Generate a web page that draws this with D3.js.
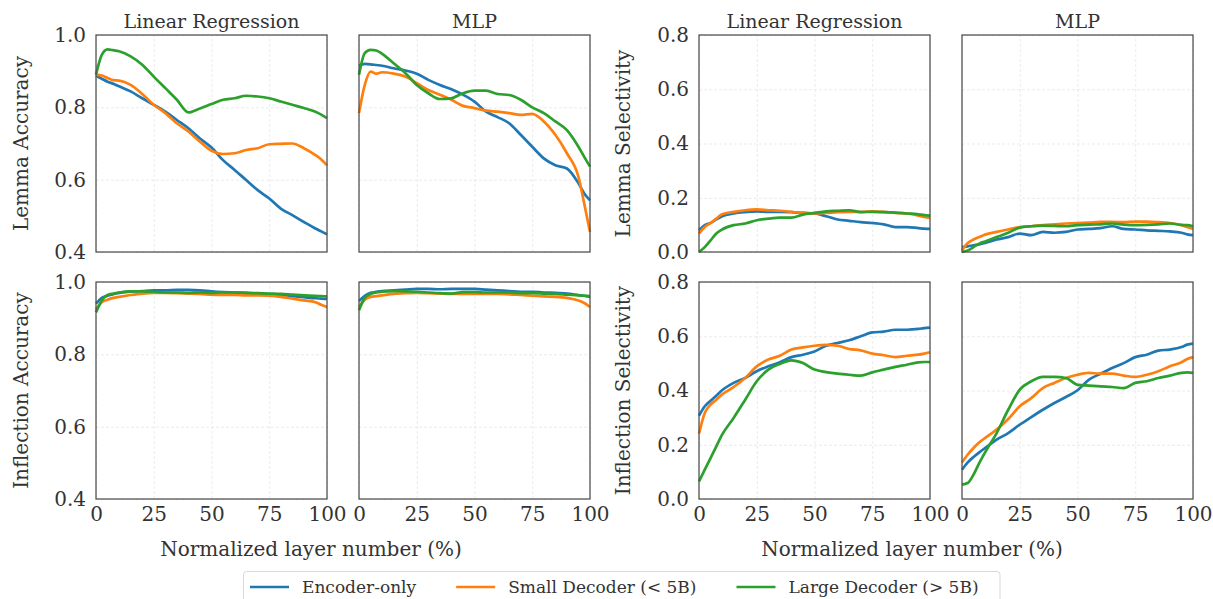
<!DOCTYPE html>
<html>
<head>
<meta charset="utf-8">
<script src="https://cdn.jsdelivr.net/npm/d3@7"></script>
<style>
  html, body { margin: 0; padding: 0; background: #fff; }
  svg text { font-family: "DejaVu Serif", "Liberation Serif", serif; }
</style>
</head>
<body>
<div id="chart"></div>
<script>
// shared x positions (normalized layer %)
const layers = [0, 2.5, 5, 7.5, 10, 15, 20, 25, 30, 35, 40, 45, 50, 55, 60, 65, 70, 75, 80, 85, 90, 95, 97.5, 100];

const seriesNames = ["Encoder-only", "Small Decoder (< 5B)", "Large Decoder (> 5B)"];
const colors = ["#1f77b4", "#ff7f0e", "#2ca02c"];
const xTicks = [0, 25, 50, 75, 100];
const accTicks = [0.4, 0.6, 0.8, 1.0];
const selTicks = [0.0, 0.2, 0.4, 0.6, 0.8];

// Lemma accuracy
const lemmaAccLR_enc = [0.887, 0.879, 0.871, 0.865, 0.858, 0.844, 0.825, 0.807, 0.788, 0.765, 0.742, 0.714, 0.689, 0.654, 0.627, 0.599, 0.571, 0.548, 0.520, 0.502, 0.483, 0.465, 0.457, 0.449];
const lemmaAccLR_small = [0.890, 0.888, 0.881, 0.875, 0.874, 0.862, 0.837, 0.807, 0.784, 0.756, 0.733, 0.705, 0.680, 0.671, 0.673, 0.682, 0.687, 0.698, 0.699, 0.700, 0.687, 0.668, 0.656, 0.640];
const lemmaAccLR_large = [0.890, 0.945, 0.960, 0.958, 0.955, 0.941, 0.918, 0.885, 0.853, 0.821, 0.786, 0.797, 0.809, 0.821, 0.825, 0.832, 0.830, 0.825, 0.816, 0.807, 0.798, 0.788, 0.780, 0.770];
const lemmaAccMLP_enc = [0.915, 0.920, 0.919, 0.917, 0.915, 0.908, 0.902, 0.893, 0.876, 0.862, 0.850, 0.835, 0.816, 0.788, 0.773, 0.756, 0.724, 0.691, 0.659, 0.640, 0.631, 0.590, 0.562, 0.543];
const lemmaAccMLP_small = [0.784, 0.862, 0.899, 0.893, 0.897, 0.893, 0.885, 0.867, 0.848, 0.835, 0.821, 0.804, 0.798, 0.791, 0.788, 0.784, 0.779, 0.782, 0.761, 0.724, 0.673, 0.608, 0.534, 0.455];
const lemmaAccMLP_large = [0.890, 0.950, 0.959, 0.957, 0.948, 0.922, 0.895, 0.862, 0.839, 0.823, 0.825, 0.839, 0.846, 0.846, 0.837, 0.834, 0.821, 0.800, 0.784, 0.761, 0.737, 0.691, 0.663, 0.636];

// Inflection accuracy
const inflAccLR_enc = [0.940, 0.956, 0.962, 0.966, 0.970, 0.973, 0.975, 0.977, 0.977, 0.978, 0.978, 0.977, 0.974, 0.972, 0.971, 0.970, 0.968, 0.966, 0.964, 0.961, 0.958, 0.955, 0.954, 0.953];
const inflAccLR_small = [0.924, 0.944, 0.951, 0.956, 0.959, 0.964, 0.968, 0.970, 0.970, 0.969, 0.968, 0.967, 0.965, 0.964, 0.964, 0.963, 0.963, 0.962, 0.959, 0.954, 0.949, 0.944, 0.937, 0.931];
const inflAccLR_large = [0.916, 0.949, 0.964, 0.968, 0.971, 0.974, 0.974, 0.973, 0.971, 0.971, 0.970, 0.971, 0.970, 0.971, 0.971, 0.970, 0.969, 0.968, 0.967, 0.965, 0.963, 0.962, 0.961, 0.960];
const inflAccMLP_enc = [0.947, 0.962, 0.970, 0.973, 0.975, 0.977, 0.979, 0.981, 0.981, 0.980, 0.981, 0.981, 0.981, 0.979, 0.977, 0.975, 0.973, 0.973, 0.971, 0.970, 0.968, 0.964, 0.962, 0.959];
const inflAccMLP_small = [0.931, 0.951, 0.959, 0.961, 0.963, 0.967, 0.969, 0.970, 0.969, 0.968, 0.967, 0.967, 0.967, 0.967, 0.967, 0.966, 0.964, 0.962, 0.960, 0.959, 0.956, 0.949, 0.942, 0.931];
const inflAccMLP_large = [0.922, 0.956, 0.967, 0.971, 0.973, 0.975, 0.974, 0.973, 0.971, 0.969, 0.968, 0.972, 0.972, 0.971, 0.971, 0.971, 0.969, 0.969, 0.968, 0.967, 0.965, 0.963, 0.962, 0.961];

// Lemma selectivity
const lemmaSelLR_enc = [0.080, 0.099, 0.107, 0.120, 0.132, 0.142, 0.147, 0.150, 0.148, 0.148, 0.147, 0.144, 0.142, 0.132, 0.120, 0.115, 0.110, 0.107, 0.102, 0.092, 0.092, 0.088, 0.086, 0.085];
const lemmaSelLR_small = [0.068, 0.092, 0.107, 0.123, 0.139, 0.148, 0.154, 0.157, 0.154, 0.152, 0.148, 0.144, 0.142, 0.144, 0.147, 0.148, 0.148, 0.150, 0.148, 0.144, 0.142, 0.134, 0.129, 0.126];
const lemmaSelLR_large = [0.000, 0.018, 0.043, 0.068, 0.083, 0.099, 0.105, 0.117, 0.123, 0.127, 0.127, 0.138, 0.144, 0.150, 0.152, 0.154, 0.147, 0.148, 0.147, 0.145, 0.142, 0.139, 0.136, 0.134];
const lemmaSelMLP_enc = [0.018, 0.021, 0.025, 0.028, 0.033, 0.046, 0.055, 0.068, 0.062, 0.074, 0.071, 0.074, 0.083, 0.085, 0.088, 0.095, 0.085, 0.083, 0.080, 0.078, 0.076, 0.071, 0.065, 0.062];
const lemmaSelMLP_small = [0.006, 0.033, 0.046, 0.055, 0.064, 0.074, 0.083, 0.092, 0.095, 0.099, 0.102, 0.105, 0.107, 0.108, 0.111, 0.111, 0.110, 0.112, 0.112, 0.110, 0.107, 0.099, 0.092, 0.085];
const lemmaSelMLP_large = [0.000, 0.006, 0.018, 0.031, 0.039, 0.055, 0.071, 0.090, 0.095, 0.097, 0.096, 0.095, 0.099, 0.101, 0.102, 0.105, 0.101, 0.099, 0.100, 0.102, 0.105, 0.100, 0.099, 0.095];

// Inflection selectivity
const inflSelLR_enc = [0.307, 0.342, 0.362, 0.381, 0.401, 0.428, 0.446, 0.471, 0.489, 0.504, 0.523, 0.532, 0.544, 0.565, 0.575, 0.585, 0.600, 0.614, 0.617, 0.624, 0.624, 0.627, 0.630, 0.632];
const inflSelLR_small = [0.241, 0.317, 0.348, 0.366, 0.385, 0.413, 0.446, 0.489, 0.514, 0.528, 0.551, 0.559, 0.565, 0.568, 0.565, 0.553, 0.548, 0.536, 0.530, 0.523, 0.528, 0.532, 0.536, 0.541];
const inflSelLR_large = [0.065, 0.108, 0.151, 0.194, 0.237, 0.299, 0.366, 0.434, 0.477, 0.498, 0.511, 0.501, 0.477, 0.468, 0.462, 0.458, 0.455, 0.467, 0.477, 0.487, 0.495, 0.504, 0.505, 0.505];
const inflSelMLP_enc = [0.108, 0.135, 0.155, 0.172, 0.188, 0.219, 0.243, 0.274, 0.302, 0.329, 0.354, 0.376, 0.401, 0.440, 0.462, 0.483, 0.501, 0.523, 0.532, 0.547, 0.551, 0.560, 0.569, 0.573];
const inflSelMLP_small = [0.135, 0.164, 0.188, 0.209, 0.225, 0.256, 0.295, 0.342, 0.372, 0.409, 0.428, 0.446, 0.458, 0.465, 0.462, 0.462, 0.455, 0.450, 0.458, 0.471, 0.489, 0.504, 0.516, 0.523];
const inflSelMLP_large = [0.053, 0.059, 0.090, 0.133, 0.172, 0.243, 0.329, 0.403, 0.434, 0.450, 0.450, 0.446, 0.421, 0.418, 0.415, 0.413, 0.409, 0.428, 0.434, 0.446, 0.455, 0.465, 0.467, 0.465];

const W = 1213, H = 599;
const FONT = '"DejaVu Serif", "Liberation Serif", serif';
const colX = [96, 359, 699, 962];
const panelW = 231;
const rowY = [35, 282];
const panelH = 217;

const panels = [
  {col: 0, row: 0, domain: [0.4, 1.0], ticks: accTicks, series: [lemmaAccLR_enc, lemmaAccLR_small, lemmaAccLR_large]},
  {col: 1, row: 0, domain: [0.4, 1.0], ticks: accTicks, series: [lemmaAccMLP_enc, lemmaAccMLP_small, lemmaAccMLP_large]},
  {col: 0, row: 1, domain: [0.4, 1.0], ticks: accTicks, series: [inflAccLR_enc, inflAccLR_small, inflAccLR_large]},
  {col: 1, row: 1, domain: [0.4, 1.0], ticks: accTicks, series: [inflAccMLP_enc, inflAccMLP_small, inflAccMLP_large]},
  {col: 2, row: 0, domain: [0, 0.8], ticks: selTicks, series: [lemmaSelLR_enc, lemmaSelLR_small, lemmaSelLR_large]},
  {col: 3, row: 0, domain: [0, 0.8], ticks: selTicks, series: [lemmaSelMLP_enc, lemmaSelMLP_small, lemmaSelMLP_large]},
  {col: 2, row: 1, domain: [0, 0.8], ticks: selTicks, series: [inflSelLR_enc, inflSelLR_small, inflSelLR_large]},
  {col: 3, row: 1, domain: [0, 0.8], ticks: selTicks, series: [inflSelMLP_enc, inflSelMLP_small, inflSelMLP_large]}
];

const svg = d3.select("#chart").append("svg")
  .attr("width", W)
  .attr("height", H)
  .attr("font-family", FONT);

const xScale = d3.scaleLinear().domain([0, 100]).range([0, panelW]);

panels.forEach(function(p) {
  const g = svg.append("g")
    .attr("transform", "translate(" + colX[p.col] + "," + rowY[p.row] + ")");
  const yScale = d3.scaleLinear().domain(p.domain).range([panelH, 0]);

  // grid
  g.append("g").attr("class", "grid")
    .call(d3.axisLeft(yScale).tickValues(p.ticks).tickSize(-panelW).tickFormat(""))
    .call(s => s.select(".domain").remove());
  g.append("g").attr("class", "grid")
    .attr("transform", "translate(0," + panelH + ")")
    .call(d3.axisBottom(xScale).tickValues(xTicks).tickSize(-panelH).tickFormat(""))
    .call(s => s.select(".domain").remove());
  g.selectAll(".grid line")
    .attr("stroke", "#e6e6e6")
    .attr("stroke-width", 0.8)
    .attr("stroke-dasharray", "3,2");

  // y tick labels on outer panels only
  if (p.col === 0 || p.col === 2) {
    const ya = g.append("g")
      .call(d3.axisLeft(yScale).tickValues(p.ticks).tickSize(0).tickPadding(10).tickFormat(d3.format(".1f")));
    ya.attr("font-family", FONT).attr("font-size", 20);
    ya.select(".domain").remove();
    ya.selectAll("text").attr("fill", "#333");
  }
  // x tick labels on bottom row
  if (p.row === 1) {
    const xa = g.append("g")
      .attr("transform", "translate(0," + panelH + ")")
      .call(d3.axisBottom(xScale).tickValues(xTicks).tickSize(0).tickPadding(8).tickFormat(d3.format("d")));
    xa.attr("font-family", FONT).attr("font-size", 20);
    xa.select(".domain").remove();
    xa.selectAll("text").attr("fill", "#333");
  }

  const line = d3.line()
    .curve(d3.curveMonotoneX)
    .x((d, i) => xScale(layers[i]))
    .y(d => yScale(d));

  g.append("g")
    .selectAll("path.data")
    .data(p.series)
    .enter()
    .append("path")
    .attr("class", "data")
    .attr("d", d => line(d))
    .attr("fill", "none")
    .attr("stroke", (d, i) => colors[i])
    .attr("stroke-width", 2.7)
    .attr("stroke-linejoin", "round");

  g.append("rect")
    .attr("width", panelW)
    .attr("height", panelH)
    .attr("fill", "none")
    .attr("stroke", "#4d4d4d")
    .attr("stroke-width", 1.25);
});

// column titles
const titles = ["Linear Regression", "MLP", "Linear Regression", "MLP"];
svg.selectAll("text.title")
  .data(titles)
  .enter()
  .append("text")
  .attr("class", "title")
  .attr("x", (d, i) => colX[i] + panelW / 2)
  .attr("y", 28)
  .attr("text-anchor", "middle")
  .attr("font-size", 19)
  .attr("fill", "#333")
  .text(d => d);

// y axis labels
const yLabels = [
  {text: "Lemma Accuracy", x: 28, row: 0},
  {text: "Inflection Accuracy", x: 28, row: 1},
  {text: "Lemma Selectivity", x: 630, row: 0},
  {text: "Inflection Selectivity", x: 630, row: 1}
];
svg.selectAll("text.ylabel")
  .data(yLabels)
  .enter()
  .append("text")
  .attr("class", "ylabel")
  .attr("transform", d => "translate(" + d.x + "," + (rowY[d.row] + panelH / 2) + ") rotate(-90)")
  .attr("text-anchor", "middle")
  .attr("font-size", 20)
  .attr("fill", "#333")
  .text(d => d.text);

// x axis labels
svg.selectAll("text.xlabel")
  .data([311, 912])
  .enter()
  .append("text")
  .attr("class", "xlabel")
  .attr("x", d => d)
  .attr("y", 556)
  .attr("text-anchor", "middle")
  .attr("font-size", 20)
  .attr("fill", "#333")
  .text("Normalized layer number (%)");

// legend
const legend = svg.append("g").attr("class", "legend");
const legBox = legend.append("rect")
  .attr("x", 243.5)
  .attr("y", 571.5)
  .attr("height", 32)
  .attr("rx", 3)
  .attr("fill", "#fff")
  .attr("stroke", "#d9d9d9")
  .attr("stroke-width", 1);
let cursor = 250;
seriesNames.forEach(function(name, i) {
  const item = legend.append("g").attr("transform", "translate(" + cursor + ",587)");
  item.append("line")
    .attr("x1", 0).attr("x2", 39)
    .attr("stroke", colors[i])
    .attr("stroke-width", 2.7);
  const t = item.append("text")
    .attr("x", 52)
    .attr("y", 6)
    .attr("font-size", 17)
    .attr("fill", "#333")
    .text(name);
  cursor += 52 + t.node().getComputedTextLength() + 40;
});
legBox.attr("width", 1000 - 243.5);
</script>
</body>
</html>
